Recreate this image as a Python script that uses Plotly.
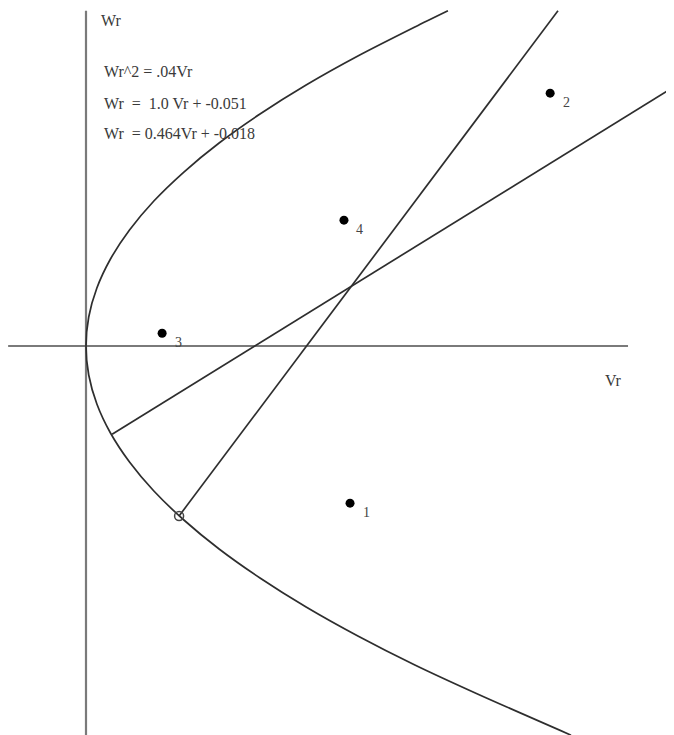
import plotly.graph_objects as go

# points
pt_vr = [0.0607, 0.1067, 0.0175, 0.0593]
pt_wr = [-0.0271, 0.0436, 0.0022, 0.0217]
pt_labels = ["1", "2", "3", "4"]

# parabola Wr^2 = .04Vr
par_wr = [0.0578, 0.055, 0.05, 0.045, 0.04, 0.035, 0.03, 0.025, 0.02, 0.015,
          0.01, 0.005, 0.0, -0.005, -0.01, -0.015, -0.02, -0.025, -0.03,
          -0.035, -0.04, -0.045, -0.05, -0.055, -0.06, -0.0671]
par_vr = [0.0832, 0.0756, 0.0625, 0.0506, 0.04, 0.0306, 0.0225, 0.0156, 0.01,
          0.005625, 0.0025, 0.000625, 0.0, 0.000625, 0.0025, 0.005625, 0.01,
          0.0156, 0.0225, 0.0306, 0.04, 0.0506, 0.0625, 0.0756, 0.09, 0.1115]

# the two lines
l1_vr = [0.0214, 0.1085]
l1_wr = [-0.0293, 0.0578]
l2_vr = [0.0060, 0.1352]
l2_wr = [-0.0152, 0.0447]

# axes
hax_vr = [-0.0179, 0.1246]
hax_wr = [0, 0]
vax_vr = [0, 0]
vax_wr = [0.0578, -0.069]

eq_lines = ["Wr^2 = .04Vr", "Wr  =  1.0 Vr + -0.051", "Wr  = 0.464Vr + -0.018"]
eq_wr = [0.0473, 0.0419, 0.0367]

fig = go.Figure()
axis_style = dict(color="#7a7a7a", width=2.2)
curve_style = dict(color="#2e2e2e", width=1.7)

fig.add_trace(go.Scatter(x=hax_vr, y=hax_wr, mode="lines", line=axis_style))
fig.add_trace(go.Scatter(x=vax_vr, y=vax_wr, mode="lines", line=axis_style))
fig.add_trace(go.Scatter(x=par_vr, y=par_wr, mode="lines",
                         line=dict(curve_style, shape="spline", smoothing=0.8)))
fig.add_trace(go.Scatter(x=l1_vr, y=l1_wr, mode="lines", line=curve_style))
fig.add_trace(go.Scatter(x=l2_vr, y=l2_wr, mode="lines", line=curve_style))
fig.add_trace(go.Scatter(x=[l1_vr[0]], y=[l1_wr[0]], mode="markers",
                         marker=dict(size=9, color="#444", symbol="circle-open",
                                     line=dict(width=1.5))))
fig.add_trace(go.Scatter(x=pt_vr, y=pt_wr, mode="markers",
                         marker=dict(size=9, color="black")))

font = dict(family="Liberation Serif", size=16, color="#3a3a3a")
for v, w, t in zip(pt_vr, pt_wr, pt_labels):
    fig.add_annotation(x=v, y=w, text=t, showarrow=False, xshift=16, yshift=-9,
                       font=dict(family="Liberation Serif", size=14, color="#444"))

fig.add_annotation(x=0.0030, y=0.0562, text="Wr", showarrow=False,
                   xanchor="left", font=font)
for t, w in zip(eq_lines, eq_wr):
    fig.add_annotation(x=0.0037, y=w, text=t, showarrow=False,
                       xanchor="left", font=font)
fig.add_annotation(x=0.1212, y=-0.0059, text="Vr", showarrow=False, font=font)

# page body has an 8px margin, so the figure is sized/ranged to fill the rest
fig.update_layout(
    width=666, height=727,
    margin=dict(l=0, r=0, t=0, b=0),
    showlegend=False,
    plot_bgcolor="white", paper_bgcolor="white",
    xaxis=dict(range=[-0.01793, 0.13517], visible=False),
    yaxis=dict(range=[-0.06707, 0.05828], visible=False),
)
fig.write_html("out.html")
